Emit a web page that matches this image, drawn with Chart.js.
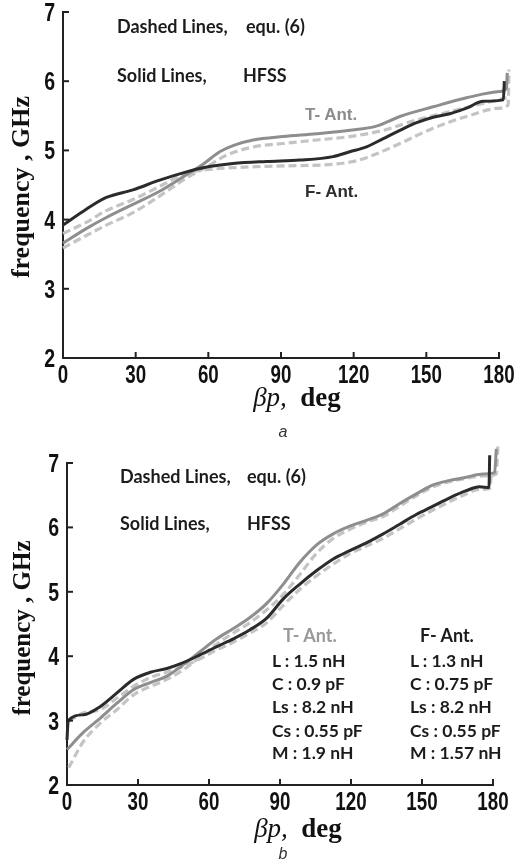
<!DOCTYPE html>
<html><head><meta charset="utf-8">
<script src="https://cdn.jsdelivr.net/npm/chart.js@4.4.1/dist/chart.umd.min.js"></script>
<style>
html,body{margin:0;padding:0;background:#fff;width:520px;height:863px;overflow:hidden;}
#wrap{position:relative;width:520px;height:863px;}
canvas{position:absolute;left:0;}
.t{position:absolute;white-space:nowrap;line-height:1;}
.cal{font-family:Lato,'Open Sans',sans-serif;font-weight:700;font-size:18px;color:#1c1c1c;}
.par{font-size:17.5px;}
.ar{font-family:'Liberation Sans',Arial,sans-serif;font-weight:700;font-size:17px;}
.ytl{font-family:'Liberation Serif','Times New Roman',serif;font-weight:700;font-size:26px;color:#111;transform:translate(-50%,-50%) rotate(-90deg);}
.xtl{font-family:'Liberation Serif','Times New Roman',serif;font-size:27px;color:#111;transform:translate(-50%,-50%);}
.xtl i{font-style:italic;font-weight:400;}
.xtl b{font-weight:700;}
.cap{font-family:'Liberation Sans',Arial,sans-serif;font-style:italic;font-size:16px;color:#333;transform:translateX(-50%);}
</style>
</head><body>
<div id="wrap">
<canvas id="ca" width="520" height="420" style="top:0"></canvas>
<canvas id="cb" width="520" height="423" style="top:440px"></canvas>

<div class="t cal" style="left:117px;top:17px">Dashed Lines,</div>
<div class="t cal" style="left:246px;top:17px">equ. (6)</div>
<div class="t cal" style="left:117px;top:66px">Solid Lines,</div>
<div class="t cal" style="left:243px;top:66px">HFSS</div>
<div class="t ar" style="left:305px;top:106px;color:#8c8c8c">T- Ant.</div>
<div class="t ar" style="left:305px;top:183px;color:#2e2e2e">F- Ant.</div>
<div class="t ytl" style="left:21px;top:187px">frequency , GHz</div>
<div class="t xtl" style="left:297px;top:397px"><i>βp,</i>&nbsp; <b>deg</b></div>
<div class="t cap" style="left:283px;top:424px">a</div>

<div class="t cal" style="left:120px;top:467px">Dashed Lines,</div>
<div class="t cal" style="left:247px;top:467px">equ. (6)</div>
<div class="t cal" style="left:120px;top:514px">Solid Lines,</div>
<div class="t cal" style="left:247px;top:514px">HFSS</div>
<div class="t cal" style="left:283px;top:626px;color:#999">T- Ant.</div>
<div class="t cal" style="left:420px;top:626px">F- Ant.</div>
<div class="t cal par" style="left:272px;top:652px">L : 1.5 nH</div>
<div class="t cal par" style="left:272px;top:675px">C : 0.9 pF</div>
<div class="t cal par" style="left:272px;top:698px">Ls : 8.2 nH</div>
<div class="t cal par" style="left:272px;top:722px">Cs : 0.55 pF</div>
<div class="t cal par" style="left:272px;top:744px">M : 1.9 nH</div>
<div class="t cal par" style="left:410px;top:652px">L : 1.3 nH</div>
<div class="t cal par" style="left:410px;top:675px">C : 0.75 pF</div>
<div class="t cal par" style="left:410px;top:698px">Ls : 8.2 nH</div>
<div class="t cal par" style="left:410px;top:722px">Cs : 0.55 pF</div>
<div class="t cal par" style="left:410px;top:744px">M : 1.57 nH</div>
<div class="t ytl" style="left:21px;top:628px;font-size:25px">frequency , GHz</div>
<div class="t xtl" style="left:298px;top:828px"><i>βp,</i>&nbsp; <b>deg</b></div>
<div class="t cap" style="left:283px;top:846px">b</div>
</div>
<script>
// ---- tick labels ----
const xTicks = [0, 30, 60, 90, 120, 150, 180];
const yTicks = [2, 3, 4, 5, 6, 7];

// ---- chart (a) ----
const aF_hfss_deg = [0, 9.6, 17.9, 28.9, 39.9, 51, 57.8, 70.2, 84, 97.8, 111.5, 118.4, 125.3, 132.2, 139.1, 146, 152.8, 159.7, 166.6, 173.5, 181.8, 182.2];
const aF_hfss_GHz = [3.92, 4.15, 4.32, 4.43, 4.57, 4.69, 4.75, 4.81, 4.84, 4.86, 4.91, 4.98, 5.05, 5.17, 5.29, 5.40, 5.48, 5.53, 5.61, 5.71, 5.73, 6.0];
const aT_hfss_deg = [0, 9.6, 17.9, 28.9, 39.9, 51, 57.8, 64.7, 70.2, 78.5, 90.9, 104.7, 118.4, 129.4, 139.1, 152.8, 166.6, 180.4, 183.1, 183.4];
const aT_hfss_GHz = [3.66, 3.87, 4.03, 4.22, 4.41, 4.65, 4.80, 4.98, 5.07, 5.15, 5.20, 5.24, 5.29, 5.35, 5.49, 5.63, 5.76, 5.85, 5.90, 6.12];
const aF_equ_deg = [0, 9.6, 17.9, 28.9, 39.9, 51, 59.2, 70.2, 84, 97.8, 111.5, 121.2, 129.4, 139.1, 152.8, 166.6, 180.4, 183.8, 184.1];
const aF_equ_GHz = [3.80, 3.96, 4.13, 4.29, 4.48, 4.67, 4.72, 4.75, 4.77, 4.78, 4.80, 4.85, 4.95, 5.10, 5.32, 5.49, 5.61, 5.66, 6.17];
const aT_equ_deg = [0, 9.6, 17.9, 28.9, 39.9, 51, 59.2, 67.5, 78.5, 90.9, 104.7, 118.4, 132.2, 146, 159.7, 173.5, 183.1];
const aT_equ_GHz = [3.59, 3.77, 3.92, 4.10, 4.34, 4.60, 4.76, 4.93, 5.05, 5.10, 5.15, 5.20, 5.29, 5.44, 5.56, 5.68, 5.76];

// ---- chart (b) ----
const bF_hfss_deg = [0, 0.5, 7, 14.1, 21.1, 28.1, 35.2, 42.2, 47.8, 56.2, 63.3, 70.3, 77.3, 84.4, 91.4, 98.4, 105.5, 112.5, 119.5, 126.5, 133.6, 140.6, 147.6, 154.7, 161.7, 168.7, 174.3, 178.3, 178.6];
const bF_hfss_GHz = [2.70, 3.00, 3.09, 3.22, 3.43, 3.64, 3.75, 3.81, 3.88, 4.02, 4.15, 4.27, 4.41, 4.59, 4.89, 5.12, 5.33, 5.51, 5.64, 5.76, 5.90, 6.05, 6.20, 6.33, 6.46, 6.57, 6.63, 6.62, 7.12];
const bT_hfss_deg = [0, 7, 14.1, 21.1, 28.1, 35.2, 42.2, 49.2, 56.2, 63.3, 70.3, 77.3, 84.4, 91.4, 98.4, 105.5, 112.5, 119.5, 126.5, 133.6, 140.6, 147.6, 154.7, 161.7, 168.7, 175.8, 180.7, 181.4];
const bT_hfss_GHz = [2.55, 2.82, 3.04, 3.27, 3.48, 3.59, 3.69, 3.87, 4.07, 4.27, 4.43, 4.60, 4.82, 5.12, 5.46, 5.73, 5.90, 6.02, 6.11, 6.21, 6.37, 6.52, 6.66, 6.73, 6.78, 6.83, 6.85, 7.22];
const bF_equ_deg = [0.7, 7, 14.1, 21.1, 28.1, 35.2, 42.2, 49.2, 56.2, 63.3, 70.3, 77.3, 84.4, 91.4, 98.4, 105.5, 112.5, 119.5, 126.5, 133.6, 140.6, 147.6, 154.7, 161.7, 168.7, 174.3, 178.6, 179.3];
const bF_equ_GHz = [2.99, 3.12, 3.17, 3.35, 3.53, 3.67, 3.75, 3.84, 3.96, 4.10, 4.22, 4.36, 4.52, 4.79, 5.04, 5.25, 5.43, 5.59, 5.71, 5.83, 5.98, 6.13, 6.27, 6.40, 6.52, 6.59, 6.60, 6.85];
const bT_equ_deg = [0.7, 7, 14.1, 21.1, 28.1, 35.2, 42.2, 49.2, 56.2, 63.3, 70.3, 77.3, 84.4, 91.4, 98.4, 105.5, 112.5, 119.5, 126.5, 133.6, 140.6, 147.6, 154.7, 161.7, 168.7, 175.8, 181.4, 182.1];
const bT_equ_GHz = [2.27, 2.68, 2.96, 3.17, 3.40, 3.53, 3.64, 3.79, 3.99, 4.19, 4.36, 4.52, 4.72, 4.96, 5.27, 5.60, 5.83, 5.97, 6.08, 6.17, 6.33, 6.49, 6.63, 6.71, 6.76, 6.80, 6.83, 7.30];

const pts = (xs, ys) => xs.map((x, i) => ({x: x, y: ys[i]}));

const COL_F = '#2b2b2b', COL_T = '#8e8e8e', COL_D = '#c4c4c4';

function ds(xs, ys, kind) {
  const base = {data: pts(xs, ys), pointRadius: 0, borderWidth: 3, fill: false,
    cubicInterpolationMode: 'monotone', clip: false, borderCapStyle: 'butt'};
  if (kind === 'F') return Object.assign(base, {borderColor: COL_F, order: 1});
  if (kind === 'T') return Object.assign(base, {borderColor: COL_T, order: 1});
  return Object.assign(base, {borderColor: COL_D, borderDash: [8, 4], borderWidth: 3.2, order: 2});
}

// inward tick marks and condensed bold tick labels, positioned by the chart scales
const axisDecor = {
  id: 'axisDecor',
  afterDraw(chart) {
    const {ctx, chartArea: a, scales: {x, y}} = chart;
    ctx.save();
    ctx.strokeStyle = '#222'; ctx.lineWidth = 2;
    xTicks.forEach(v => { const px = x.getPixelForValue(v); ctx.beginPath(); ctx.moveTo(px, a.bottom); ctx.lineTo(px, a.bottom - 6); ctx.stroke(); });
    yTicks.forEach(v => { const py = y.getPixelForValue(v); ctx.beginPath(); ctx.moveTo(a.left, py); ctx.lineTo(a.left + 6, py); ctx.stroke(); });
    ctx.font = 'bold 25px "Liberation Sans", Arial, sans-serif';
    ctx.fillStyle = '#111';
    ctx.textBaseline = 'alphabetic';
    ctx.textAlign = 'center';
    xTicks.forEach(v => {
      const px = x.getPixelForValue(v);
      ctx.save(); ctx.translate(px, a.bottom + 25); ctx.scale(0.75, 1); ctx.fillText(String(v), 0, 0); ctx.restore();
    });
    ctx.textAlign = 'right';
    yTicks.forEach(v => {
      const py = y.getPixelForValue(v);
      ctx.save(); ctx.translate(a.left - 8, py + 9); ctx.scale(0.78, 1); ctx.fillText(String(v), 0, 0); ctx.restore();
    });
    ctx.restore();
  }
};

function make(id, datasets, g) {
  new Chart(document.getElementById(id), {
    type: 'line',
    data: {datasets: datasets},
    options: {
      responsive: false, animation: false, devicePixelRatio: 1,
      layout: {padding: {top: g.top, right: g.right, left: 0, bottom: 0}},
      plugins: {legend: {display: false}, tooltip: {enabled: false}},
      scales: {
        x: {type: 'linear', bounds: 'data',
          afterDataLimits: s => { s.min = 0; s.max = 180; },
          afterBuildTicks: s => { s.ticks = xTicks.map(v => ({value: v})); },
          afterFit: s => { s.height = g.xh; },
          grid: {display: false, drawTicks: false},
          border: {display: true, color: '#222', width: 2},
          ticks: {display: false}},
        y: {type: 'linear', min: 2, max: 7,
          afterBuildTicks: s => { s.ticks = yTicks.map(v => ({value: v})); },
          afterFit: s => { s.width = g.yw; },
          grid: {display: false, drawTicks: false},
          border: {display: true, color: '#222', width: 2},
          ticks: {display: false}}
      }
    },
    plugins: [axisDecor]
  });
}

make('ca', [
  ds(aF_hfss_deg, aF_hfss_GHz, 'F'),
  ds(aT_hfss_deg, aT_hfss_GHz, 'T'),
  ds(aF_equ_deg, aF_equ_GHz, 'D'),
  ds(aT_equ_deg, aT_equ_GHz, 'D')
], {top: 12, right: 21, xh: 62, yw: 63});

make('cb', [
  ds(bF_hfss_deg, bF_hfss_GHz, 'F'),
  ds(bT_hfss_deg, bT_hfss_GHz, 'T'),
  ds(bF_equ_deg, bF_equ_GHz, 'D'),
  ds(bT_equ_deg, bT_equ_GHz, 'D')
], {top: 23, right: 27, xh: 78, yw: 67});
</script>
</body></html>
